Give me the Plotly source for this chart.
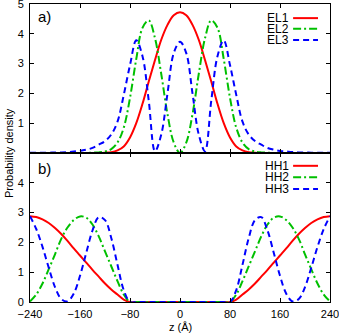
# Probability densities of electron (EL) and heavy-hole (HH) states
import plotly.graph_objects as go
from plotly.subplots import make_subplots

# z positions (Angstrom)
z = [-240, -230, -220, -210, -200, -190, -180, -170, -160, -150, -140, -130, -120,
     -110, -100, -90, -80, -70, -60, -50, -40, -30, -20, -10, 0,
     10, 20, 30, 40, 50, 60, 70, 80, 90, 100, 110, 120,
     130, 140, 150, 160, 170, 180, 190, 200, 210, 220, 230, 240]

# panel a) electron states
el1 = [0, 0, 0, 0, 0, 0, 0, 0, 0, 0, 0, 0, 0.01,
       0.03, 0.09, 0.22, 0.52, 1.00, 1.65, 2.40, 3.12, 3.80, 4.30, 4.62, 4.72,
       4.62, 4.30, 3.80, 3.12, 2.40, 1.65, 1.00, 0.52, 0.22, 0.09, 0.03, 0.01,
       0, 0, 0, 0, 0, 0, 0, 0, 0, 0, 0, 0]
el2 = [0, 0, 0, 0, 0, 0, 0, 0, 0, 0, 0.01, 0.02, 0.05,
       0.13, 0.35, 0.85, 1.85, 3.15, 4.20, 4.45, 3.85, 2.65, 1.30, 0.35, 0,
       0.35, 1.30, 2.65, 3.85, 4.45, 4.20, 3.15, 1.85, 0.85, 0.35, 0.13, 0.05,
       0.02, 0.01, 0, 0, 0, 0, 0, 0, 0, 0, 0, 0]
el3 = [0.01, 0.01, 0.01, 0.01, 0.02, 0.02, 0.03, 0.05, 0.07, 0.11, 0.17, 0.28, 0.40,
       0.62, 1.05, 1.95, 2.95, 3.78, 3.25, 1.75, 0.06, 0.62, 2.00, 3.35, 3.73,
       3.35, 2.00, 0.62, 0.06, 1.75, 3.25, 3.78, 2.95, 1.95, 1.05, 0.62, 0.40,
       0.28, 0.17, 0.11, 0.07, 0.05, 0.03, 0.02, 0.02, 0.01, 0.01, 0.01, 0.01]

# panel b) heavy-hole states
hh1 = [2.88, 2.85, 2.77, 2.65, 2.48, 2.28, 2.05, 1.80, 1.56, 1.32, 1.08, 0.85, 0.62,
       0.42, 0.25, 0.08, 0, 0, 0, 0, 0, 0, 0, 0, 0,
       0, 0, 0, 0, 0, 0, 0, 0, 0.08, 0.25, 0.42, 0.62,
       0.85, 1.08, 1.32, 1.56, 1.80, 2.05, 2.28, 2.48, 2.65, 2.77, 2.85, 2.88]
hh2 = [0.02, 0.25, 0.62, 1.10, 1.60, 2.12, 2.50, 2.75, 2.87, 2.83, 2.60, 2.20, 1.70,
       1.20, 0.70, 0.25, 0, 0, 0, 0, 0, 0, 0, 0, 0,
       0, 0, 0, 0, 0, 0, 0, 0, 0.25, 0.70, 1.20, 1.70,
       2.20, 2.60, 2.83, 2.87, 2.75, 2.50, 2.12, 1.60, 1.10, 0.62, 0.25, 0.02]
hh3 = [2.88, 2.45, 1.85, 1.15, 0.50, 0.10, 0.02, 0.28, 0.88, 1.65, 2.40, 2.85, 2.75,
       2.15, 1.25, 0.40, 0, 0, 0, 0, 0, 0, 0, 0, 0,
       0, 0, 0, 0, 0, 0, 0, 0, 0.40, 1.25, 2.15, 2.75,
       2.85, 2.40, 1.65, 0.88, 0.28, 0.02, 0.10, 0.50, 1.15, 1.85, 2.45, 2.88]

xticks = [-240, -160, -80, 0, 80, 160, 240]

RED, GREEN, BLUE = "#ff0000", "#00c000", "#0000ff"
DASH = "6px,4px"
DASHDOT = "8px,3px,2px,3px"

styles = [(RED, "solid"), (GREEN, DASHDOT), (BLUE, DASH)]

fig = make_subplots(rows=2, cols=1, shared_xaxes=True, vertical_spacing=0)

for row, names, series in [(1, ["EL1", "EL2", "EL3"], [el1, el2, el3]),
                           (2, ["HH1", "HH2", "HH3"], [hh1, hh2, hh3])]:
    for name, ys, (col, dash) in zip(names, series, styles):
        fig.add_trace(go.Scatter(x=z, y=ys, mode="lines", name=name,
                                 line=dict(color=col, width=2, dash=dash, shape="spline"),
                                 showlegend=False), row=row, col=1)

axis_common = dict(showline=True, linecolor="black", linewidth=1, mirror="allticks",
                   ticks="inside", ticklen=4, tickcolor="black", showgrid=False,
                   zeroline=False, automargin=False, ticklabeloverflow="allow")

fig.update_xaxes(range=[-240, 240], tickvals=xticks, **axis_common)
fig.update_xaxes(showticklabels=False, row=1, col=1)
fig.update_xaxes(ticklabelstandoff=2, row=2, col=1)
fig.update_yaxes(range=[0, 5], ticklabelstandoff=3, **axis_common)
fig.update_yaxes(tickvals=[1, 2, 3, 4, 5], row=1, col=1)
fig.update_yaxes(tickvals=[0, 1, 2, 3, 4], row=2, col=1)

# gnuplot-style key: label on the left, line sample on the right
key_rows = [("EL1", 0.9526), ("EL2", 0.9166), ("EL3", 0.8796),
            ("HH1", 0.457), ("HH2", 0.419), ("HH3", 0.3796)]
for i, (label, ky) in enumerate(key_rows):
    col, dash = styles[i % 3]
    fig.add_annotation(x=0.868, y=ky, xref="paper", yref="paper", text=label,
                       showarrow=False, xanchor="right", yanchor="middle",
                       font=dict(size=12), borderpad=0)
    fig.add_shape(type="line", xref="paper", yref="paper", x0=0.877, x1=0.96,
                  y0=ky, y1=ky, line=dict(color=col, width=2, dash=dash))

fig.add_annotation(x=0.02, y=0.957, xref="paper", yref="paper", text="a)",
                   showarrow=False, xanchor="left", yanchor="middle", font=dict(size=15))
fig.add_annotation(x=0.02, y=0.449, xref="paper", yref="paper", text="b)",
                   showarrow=False, xanchor="left", yanchor="middle", font=dict(size=15))
fig.add_annotation(x=-0.07, y=0.5, xref="paper", yref="paper", text="Probability density",
                   textangle=-90, showarrow=False, xanchor="center", yanchor="middle",
                   font=dict(size=11))
fig.add_annotation(x=0.5, y=-0.085, xref="paper", yref="paper", text="z (Å)",
                   showarrow=False, xanchor="center", yanchor="middle", font=dict(size=11))

fig.update_layout(width=339, height=334, margin=dict(l=30, r=9, t=4, b=32),
                  plot_bgcolor="white", paper_bgcolor="white",
                  font=dict(family="Liberation Sans, Arial, sans-serif", size=11, color="black"))

# drop the page's default body margin so the figure sits at the window's corner
fig.write_html("out.html", config={"displayModeBar": False},
               post_script="document.body.style.margin='0px';")
